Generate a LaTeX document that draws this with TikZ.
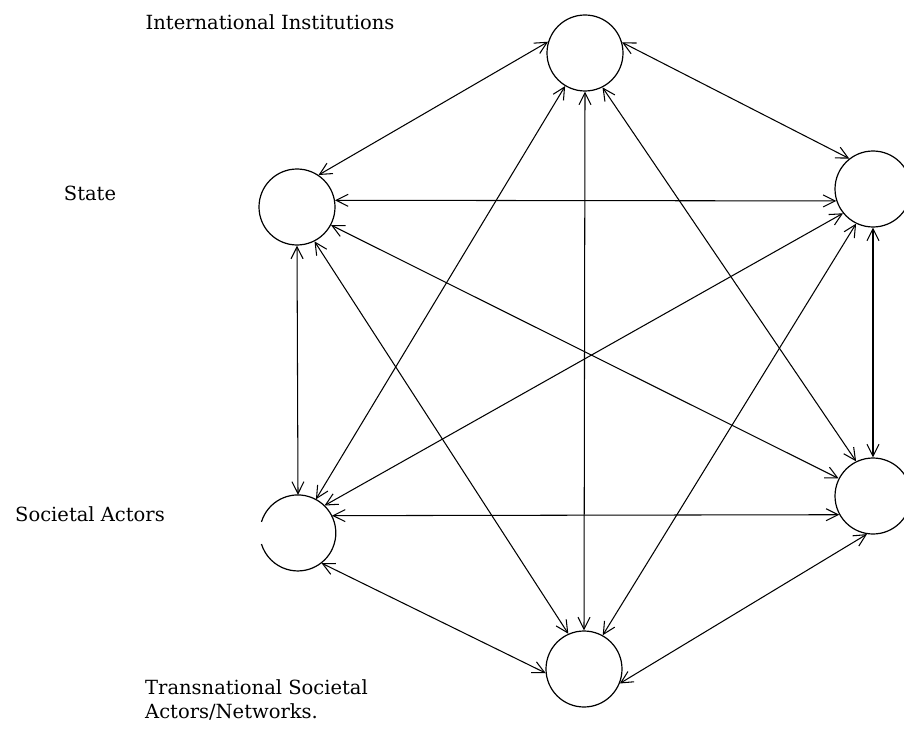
\documentclass[tikz,border=0pt]{standalone}
\usepackage{fontspec}
\setmainfont{DejaVu Serif}
\usetikzlibrary{arrows.meta}
\begin{document}
\begin{tikzpicture}[x=1pt,y=-1pt,
  actor/.style={circle,draw,line width=1.2pt,minimum size=76pt,inner sep=0pt},
  ghost/.style={circle,minimum size=76pt,inner sep=0pt},
  link/.style={{Straight Barb[length=12pt,width=12pt]}-{Straight Barb[length=12pt,width=12pt]},line width=1.05pt},
  lbl/.style={font=\fontsize{19.5}{24}\selectfont,inner sep=0pt}]
\useasboundingbox (0,0) rectangle (904,730);
\clip (0,0) rectangle (904,730);
% actors
\node[actor] (top)   at (585,53)  {};
\node[actor] (state) at (297,207) {};
\node[actor] (rt)    at (873,189) {};
\node[actor] (rb)    at (873,496) {};
\node[ghost] (soc)   at (298,533) {};
\node[actor] (bot)   at (584,669) {};
\draw[line width=1.2pt] (soc.163) arc[start angle=163,end angle=-163,radius=38pt];
% labels
\node[lbl] (lii) at (270,22) {International Institutions};
\node[lbl] (lst) at (90,193) {State};
\node[lbl] (lsa) at (90,514) {Societal Actors};
\node[lbl,anchor=west,align=left] (ltn) at (145,700) {Transnational Societal\\Actors/Networks.};
% connectors
\draw[link] (top.163) -- (state.56);
\draw[link] (top.16) -- (rt.128);
\draw[link] (top.-90) -- (bot.90);
\draw[link] (top.-121) -- (soc.62);
\draw[link] (top.-63) -- (rb.116);
\draw[link] (state.10) -- (rt.-162);
\draw[link] (state.-28) -- (rb.153);
\draw[link] (state.-90) -- (soc.90);
\draw[link] (state.-63) -- (bot.114);
\draw[link] (rt.-141) -- (soc.46);
\draw[link] (rt.-116) -- (bot.61);
\draw[link] (rt.-90) -- (rb.90);
\draw[link] (rb.-151) -- (soc.27);
\draw[link] (rb.-99) -- (bot.-22);
\draw[link] (soc.-52) -- (bot.-174);
\end{tikzpicture}
\end{document}
